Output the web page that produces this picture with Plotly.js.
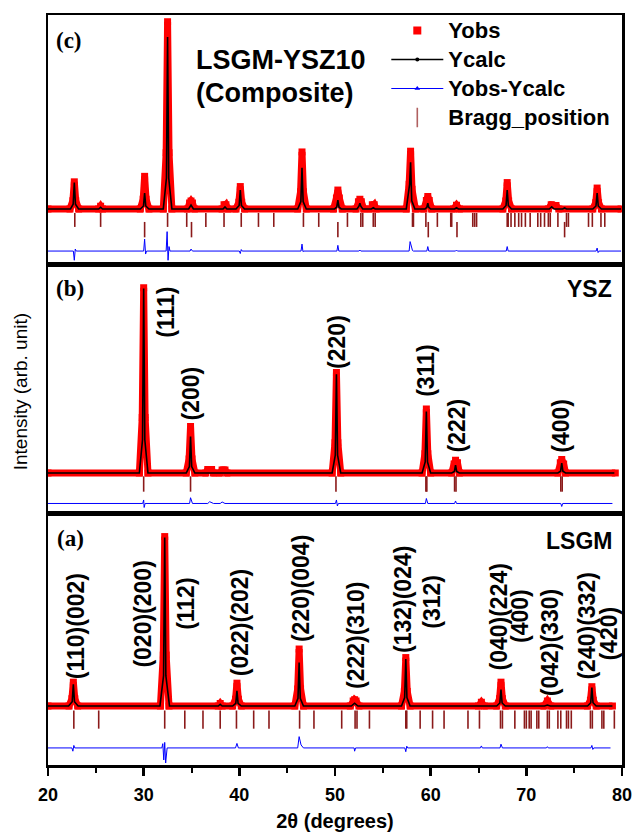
<!DOCTYPE html>
<html>
<head>
<meta charset="utf-8">
<script src="https://cdn.plot.ly/plotly-3.0.1.min.js"></script>
<style>html,body{margin:0;padding:0;background:#fff;}#chart{width:632px;height:833px;}</style>
</head>
<body>
<div id="chart"></div>
<script>
// ---------- Panel (a) LSGM ----------
const aObsX = [20.0,22.2,22.5,22.65,22.8,23.1,31.75,32.05,32.2,32.35,32.65,37.8,38.0,38.2,39.3,39.6,39.75,39.9,40.2,45.8,46.1,46.25,46.4,46.7,51.6,51.9,52.05,52.2,52.5,56.95,57.25,57.4,57.55,57.85,65.0,65.3,65.6,66.9,67.2,67.35,67.5,67.8,71.85,72.2,72.55,76.4,76.7,76.85,77.0,77.3,79.0];
const aObsY = [23.5,23.5,26.4,33.0,26.4,23.5,23.5,43.8,91.0,43.8,23.5,23.5,24.5,23.5,23.5,26.2,32.6,26.2,23.5,23.5,30.3,46.2,30.3,23.5,23.5,25.5,26.0,25.5,23.5,23.5,29.3,42.8,29.3,23.5,23.5,25.0,23.5,23.5,26.4,33.0,26.4,23.5,23.5,25.5,23.5,23.5,25.8,31.2,25.8,23.5,23.5];
const aCalcX = [20.0,22.15,22.53,22.65,22.77,23.15,31.7,32.08,32.2,32.32,32.7,37.8,38.0,38.2,39.3,39.63,39.75,39.87,40.2,45.8,46.13,46.25,46.37,46.7,51.7,52.05,52.4,56.95,57.28,57.4,57.52,57.85,66.9,67.23,67.35,67.47,67.8,71.9,72.2,72.5,76.4,76.73,76.85,76.97,77.3,79.0];
const aCalcY = [23.5,23.5,25.2,32.1,25.2,23.5,23.5,35.6,90.6,35.6,23.5,23.5,24.2,23.5,23.5,24.6,29.5,24.6,23.5,23.5,26.6,40.8,26.6,23.5,23.5,24.6,23.5,23.5,26.9,42.2,26.9,23.5,23.5,24.7,30.1,24.7,23.5,23.5,23.9,23.5,23.5,24.8,30.8,24.8,23.5,23.5];
const aDiffX = [20.0,22.5,22.6,22.7,22.8,31.9,32.0,32.1,32.2,32.3,32.45,39.6,39.75,39.9,46.1,46.25,46.45,46.7,52.0,52.05,52.15,57.3,57.4,57.5,57.6,65.2,65.3,65.4,67.25,67.35,67.5,72.1,72.2,72.3,76.75,76.85,76.95,77.05,78.8];
const aDiffY = [6.8,6.8,5.5,7.8,6.8,6.8,8.5,2.0,9.0,0.8,6.8,6.8,8.6,6.8,6.8,11.3,8.0,6.8,6.8,5.5,6.8,6.8,5.3,7.5,6.8,6.8,7.6,6.8,6.8,8.3,6.8,6.8,7.3,6.8,6.8,7.8,6.2,6.8,6.8];
const aBragg = [22.7,25.3,32.2,34.3,36.2,38.0,39.7,41.5,43.1,46.3,47.8,50.7,52.1,52.3,53.6,57.4,57.5,58.9,60.2,61.4,63.9,65.1,67.3,67.5,68.8,69.8,70.0,70.3,70.5,71.1,71.3,72.2,72.4,73.3,73.6,74.2,74.4,74.7,76.7,76.9,77.9,78.1,79.2];
const aBraggLevel = 18.1;
const aHklText = ['(110)(002)','(020)(200)','(112)','(022)(202)','(220)(004)','(222)(310)','(132)(024)','(312)','(040)(224)','(400)','(042)(330)','(240)(332)','(420)'];
const aHklX = [22.95,29.9,34.4,40.1,46.45,52.2,57.1,60.1,67.1,69.35,72.5,76.3,78.6];
const aHklY = [55.4,60.2,64.1,56.6,70.1,51.4,66.1,64.9,59.0,59.4,48.6,55.4,52.2];

// ---------- Panel (b) YSZ ----------
const bObsX = [20.0,29.55,29.85,30.0,30.15,30.45,34.45,34.75,34.9,35.05,35.35,36.5,36.7,37.1,37.3,38.0,38.2,38.5,38.7,49.7,50.0,50.15,50.3,50.6,59.1,59.4,59.55,59.7,60.0,62.2,62.45,62.6,62.8,63.0,73.3,73.55,73.7,73.9,74.1,79.3];
const bObsY = [16.4,16.4,38.6,90.5,38.6,16.4,16.4,22.0,35.0,22.0,16.4,16.4,17.8,17.8,16.4,16.4,17.6,17.6,16.4,16.4,28.5,56.6,28.5,16.4,16.4,24.1,42.0,24.1,16.4,16.4,20.0,21.5,20.5,16.4,16.4,20.5,21.8,20.0,16.4,16.4];
const bCalcX = [20.0,29.55,29.88,30.0,30.12,30.45,34.45,34.78,34.9,35.02,35.35,49.7,50.03,50.15,50.27,50.6,59.1,59.43,59.55,59.67,60.0,62.2,62.48,62.6,62.72,63.0,73.3,73.58,73.7,73.82,74.1,79.2];
const bCalcY = [16.4,16.4,29.7,90.2,29.7,16.4,16.4,19.0,31.0,19.0,16.4,16.4,23.5,55.9,23.5,16.4,16.4,20.8,41.0,20.8,16.4,16.4,17.0,19.5,17.0,16.4,16.4,17.1,20.3,17.1,16.4,16.4];
const bDiffX = [20.0,29.9,30.0,30.05,30.15,34.8,34.9,35.0,35.1,36.7,36.9,37.3,38.0,38.2,38.5,50.05,50.15,50.25,50.35,59.45,59.55,59.7,62.5,62.6,62.7,73.6,73.7,73.8,79.0];
const bDiffY = [4.2,4.2,5.6,2.6,4.2,4.2,6.5,4.8,4.2,4.2,4.9,4.2,4.2,4.8,4.2,4.2,5.6,3.2,4.2,4.2,6.2,4.2,4.2,5.2,4.2,4.2,3.0,4.2,4.2];
const bBragg = [30.0,34.9,50.1,59.5,59.6,62.5,62.65,73.6,73.75];
const bBraggLevel = 12.0;
const bHklText = ['(111)','(200)','(220)','(311)','(222)','(400)'];
const bHklX = [32.3,34.9,50.2,59.5,62.8,73.6];
const bHklY = [80.8,48.0,68.8,57.2,35.6,35.2];

// ---------- Panel (c) LSGM-YSZ10 ----------
const cObsX = [20.0,22.3,22.6,22.75,22.9,23.2,25.3,25.5,25.7,29.65,29.95,30.1,30.25,30.55,32.05,32.35,32.5,32.65,32.95,34.6,34.8,34.95,35.1,35.3,38.2,38.4,38.6,38.8,39.65,39.95,40.1,40.25,40.55,46.1,46.4,46.55,46.7,47.0,49.85,50.15,50.3,50.45,50.75,52.2,52.45,52.6,52.75,53.0,53.7,53.9,54.1,54.3,57.45,57.75,57.9,58.05,58.4,59.3,59.55,59.7,59.85,60.1,62.4,62.7,63.0,67.55,67.85,68.0,68.15,68.45,72.3,72.6,73.1,73.4,76.95,77.25,77.4,77.55,77.85,79.9];
const cObsY = [22.1,22.1,25.4,33.0,25.4,22.1,22.1,23.2,22.1,22.1,26.0,35.2,26.0,22.1,22.1,44.7,97.3,44.7,22.1,22.1,24.5,25.3,24.5,22.1,22.1,23.8,23.8,22.1,22.1,24.8,31.1,24.8,22.1,22.1,29.0,45.0,29.0,22.1,22.1,26.5,29.7,26.5,22.1,22.1,25.0,26.0,25.0,22.1,22.1,23.8,23.8,22.1,22.1,32.0,45.3,30.0,22.1,22.1,25.5,27.1,25.5,22.1,22.1,23.6,22.1,22.1,25.3,32.7,25.3,22.1,22.1,23.8,23.5,22.1,22.1,24.6,30.5,24.6,22.1,22.1];
const cCalcX = [20.0,22.35,22.63,22.75,22.87,23.2,25.3,25.5,25.7,29.65,29.98,30.1,30.22,30.55,32.05,32.38,32.5,32.62,32.95,34.7,34.95,35.2,38.3,38.5,38.7,39.65,39.98,40.1,40.22,40.55,46.1,46.43,46.55,46.67,47.0,49.95,50.18,50.3,50.42,50.65,52.3,52.5,52.6,52.7,52.9,53.8,54.0,54.2,57.45,57.7,57.8,57.9,58.02,58.35,59.4,59.6,59.7,59.8,60.0,62.5,62.7,62.9,67.55,67.88,68.0,68.12,68.45,72.4,72.65,72.9,73.8,74.0,74.2,76.95,77.28,77.4,77.52,77.85,79.9];
const cCalcY = [22.1,22.1,24.0,32.7,24.0,22.1,22.1,22.8,22.1,22.1,23.3,28.5,23.3,22.1,22.1,34.5,91.2,34.5,22.1,22.1,23.7,22.1,22.1,22.9,22.1,22.1,23.5,29.7,23.5,22.1,22.1,25.1,38.6,25.1,22.1,22.1,22.8,25.7,22.8,22.1,22.1,23.2,24.4,23.2,22.1,22.1,22.6,22.1,22.1,28.0,32.0,40.9,25.5,22.1,22.1,22.8,24.4,22.8,22.1,22.1,22.6,22.1,22.1,23.5,29.7,23.5,22.1,22.1,23.0,22.1,22.1,22.5,22.1,22.1,23.3,28.5,23.3,22.1,22.1];
const cDiffX = [20.0,22.65,22.75,22.85,22.95,30.0,30.1,30.2,30.3,32.35,32.45,32.55,32.65,32.75,34.85,34.95,35.1,40.0,40.1,40.2,40.3,46.45,46.55,46.65,46.75,50.2,50.3,50.4,52.5,52.6,52.7,57.75,57.85,57.95,58.1,58.2,59.6,59.7,59.8,62.6,62.7,62.8,67.9,68.0,68.1,77.3,77.4,77.5,77.6,79.9];
const cDiffY = [5.2,5.2,1.5,6.0,5.2,5.2,10.0,4.0,5.2,5.2,13.0,1.5,7.0,5.2,5.2,6.0,5.2,5.2,4.2,5.8,5.2,5.2,8.0,5.0,5.2,5.2,7.5,5.2,5.2,5.6,5.2,5.2,9.0,7.5,5.4,5.2,5.2,7.0,5.2,5.2,5.6,5.2,5.2,7.0,5.2,5.2,6.4,4.6,5.2,5.2];
const cBragg1 = [22.8,25.5,32.5,34.5,36.5,38.4,40.2,42.0,43.6,46.7,48.3,51.3,52.7,52.9,54.0,54.2,58.1,58.2,59.5,60.7,62.1,62.2,64.4,64.6,64.8,68.0,68.1,68.4,68.8,69.2,69.5,69.9,70.4,71.2,71.5,71.9,72.3,72.5,73.3,74.2,74.4,76.5,76.9,77.8,78.2];
const cBragg1Level = 17.7;
const cBragg2 = [30.1,35.0,50.3,59.75,62.75,74.0];
const cBragg2Level = 13.8;

const legendNames = ['Yobs', 'Ycalc', 'Yobs-Ycalc', 'Bragg_position'];

const FONT = 'Liberation Sans, Arial, sans-serif';
const SERIF = 'Liberation Serif, Times New Roman, serif';
const RED = '#ff0000', BRAGG = '#8b1a1a';

function panel(obsX, obsY, calcX, calcY, diffX, diffY, xa, ya) {
  return [
    {x: obsX, y: obsY, xaxis: xa, yaxis: ya, type: 'scatter', mode: 'lines+markers', showlegend: false,
     line: {color: RED, width: 7}, marker: {symbol: 'square', size: 7, color: RED}, hoverinfo: 'skip'},
    {x: calcX, y: calcY, xaxis: xa, yaxis: ya, type: 'scatter', mode: 'lines', showlegend: false,
     line: {color: '#000', width: 1.6}, hoverinfo: 'skip'},
    {x: diffX, y: diffY, xaxis: xa, yaxis: ya, type: 'scatter', mode: 'lines', showlegend: false,
     line: {color: '#0000ff', width: 1}, hoverinfo: 'skip'}
  ];
}
function bragg(pos, level, size, xa, ya) {
  return {x: pos, y: pos.map(() => level), xaxis: xa, yaxis: ya, type: 'scatter', mode: 'markers', showlegend: false,
    marker: {symbol: 'line-ns', size: size, line: {color: BRAGG, width: 1.6}}, hoverinfo: 'skip'};
}
const big = (s) => '<span style="font-size:22px">' + s + '</span>';

const traces = [].concat(
  panel(aObsX, aObsY, aCalcX, aCalcY, aDiffX, aDiffY, 'x', 'y'),
  [bragg(aBragg, aBraggLevel, 13, 'x', 'y')],
  panel(bObsX, bObsY, bCalcX, bCalcY, bDiffX, bDiffY, 'x2', 'y2'),
  [bragg(bBragg, bBraggLevel, 11, 'x2', 'y2')],
  panel(cObsX, cObsY, cCalcX, cCalcY, cDiffX, cDiffY, 'x3', 'y3'),
  [bragg(cBragg1, cBragg1Level, 10, 'x3', 'y3'), bragg(cBragg2, cBragg2Level, 11, 'x3', 'y3')],
  [
    {x: [null], y: [null], xaxis: 'x3', yaxis: 'y3', name: big(legendNames[0]), mode: 'markers', marker: {symbol: 'square', size: 8, color: RED}},
    {x: [null], y: [null], xaxis: 'x3', yaxis: 'y3', name: big(legendNames[1]), mode: 'lines+markers', line: {color: '#000', width: 1.5}, marker: {symbol: 'circle', size: 4, color: '#000'}},
    {x: [null], y: [null], xaxis: 'x3', yaxis: 'y3', name: big(legendNames[2]), mode: 'lines+markers', line: {color: '#0000ff', width: 1}, marker: {symbol: 'triangle-up', size: 5, color: '#0000ff'}},
    {x: [null], y: [null], xaxis: 'x3', yaxis: 'y3', name: big(legendNames[3]), mode: 'markers', marker: {symbol: 'line-ns', size: 14, line: {color: '#b06060', width: 1.6}}}
  ]
);

const dA = [0, 0.3347], dB = [0.3347, 0.668], dC = [0.668, 1];
function yax(dom) {
  return {domain: dom, range: [0, 100], showgrid: false, zeroline: false, showticklabels: false, ticks: '',
          showline: true, mirror: true, linecolor: '#000', linewidth: 2.5, fixedrange: true};
}
function xax(anchor, bottom) {
  const o = {anchor: anchor, range: [20, 80], showgrid: false, zeroline: false, showline: true, mirror: true,
             linecolor: '#000', linewidth: 2.5, fixedrange: true};
  if (bottom) {
    Object.assign(o, {ticks: 'outside', ticklen: 8, tickwidth: 2.5, tickcolor: '#000', dtick: 10, tick0: 20,
      ticklabeloverflow: 'allow', ticklabelstandoff: 4,
      tickfont: {family: FONT, size: 18, color: '#000', weight: 'bold'},
      minor: {ticks: 'outside', ticklen: 5, tickwidth: 2, tickcolor: '#000', dtick: 5},
      title: {text: '2θ (degrees)', font: {family: FONT, size: 20, color: '#000', weight: 'bold'}, standoff: 10}});
  } else {
    Object.assign(o, {matches: 'x', showticklabels: false, ticks: ''});
  }
  return o;
}

const annotations = [];
function hkl(texts, xs, ys, xref, yref) {
  texts.forEach((t, i) => annotations.push({x: xs[i], y: ys[i], xref: xref, yref: yref, text: '<b>' + t + '</b>',
    xanchor: 'center', yanchor: 'middle',
    textangle: -90, showarrow: false, font: {family: FONT, size: 23, color: '#000'}}));
}
hkl(aHklText, aHklX, aHklY, 'x', 'y');
hkl(bHklText, bHklX, bHklY, 'x2', 'y2');
const px = (p) => (p - 47.7) / 574;   // pixel x -> paper
const py = (p) => (765 - p) / 750;    // pixel y -> paper
function lab(x, y, text, font, xa) {
  annotations.push({x: px(x), y: py(y), xref: 'paper', yref: 'paper', xanchor: xa || 'center', yanchor: 'middle',
    text: text, showarrow: false, font: font});
}
lab(69, 41, '<b>(c)</b>', {family: SERIF, size: 23, color: '#000'});
lab(70, 288, '<b>(b)</b>', {family: SERIF, size: 23, color: '#000'});
lab(70, 538, '<b>(a)</b>', {family: SERIF, size: 23, color: '#000'});
lab(194, 60, '<b>LSGM-YSZ10</b>', {family: FONT, size: 27, color: '#000'}, 'left');
lab(194, 93, '<b>(Composite)</b>', {family: FONT, size: 27, color: '#000'}, 'left');
lab(614, 289, '<b>YSZ</b>', {family: FONT, size: 23, color: '#000'}, 'right');
lab(614, 541, '<b>LSGM</b>', {family: FONT, size: 23, color: '#000'}, 'right');
annotations.push({x: px(21), y: py(392), xref: 'paper', yref: 'paper', xanchor: 'center', yanchor: 'middle',
  text: 'Intensity (arb. unit)', textangle: -90, showarrow: false, font: {family: FONT, size: 19, color: '#000'}});

const layout = {
  width: 632, height: 833,
  margin: {l: 48, r: 10, t: 15, b: 68},
  paper_bgcolor: '#fff', plot_bgcolor: '#fff',
  xaxis: xax('y', true), xaxis2: xax('y2', false), xaxis3: xax('y3', false),
  yaxis: yax(dA), yaxis2: yax(dB), yaxis3: yax(dC),
  showlegend: true,
  legend: {x: px(386), y: py(11), xanchor: 'left', yanchor: 'top', bgcolor: 'rgba(0,0,0,0)', borderwidth: 0,
           itemwidth: 52,
           font: {family: FONT, size: 20, color: '#000', weight: 'bold'}},
  annotations: annotations
};

Plotly.newPlot('chart', traces, layout, {staticPlot: true, displayModeBar: false});
</script>
</body>
</html>
